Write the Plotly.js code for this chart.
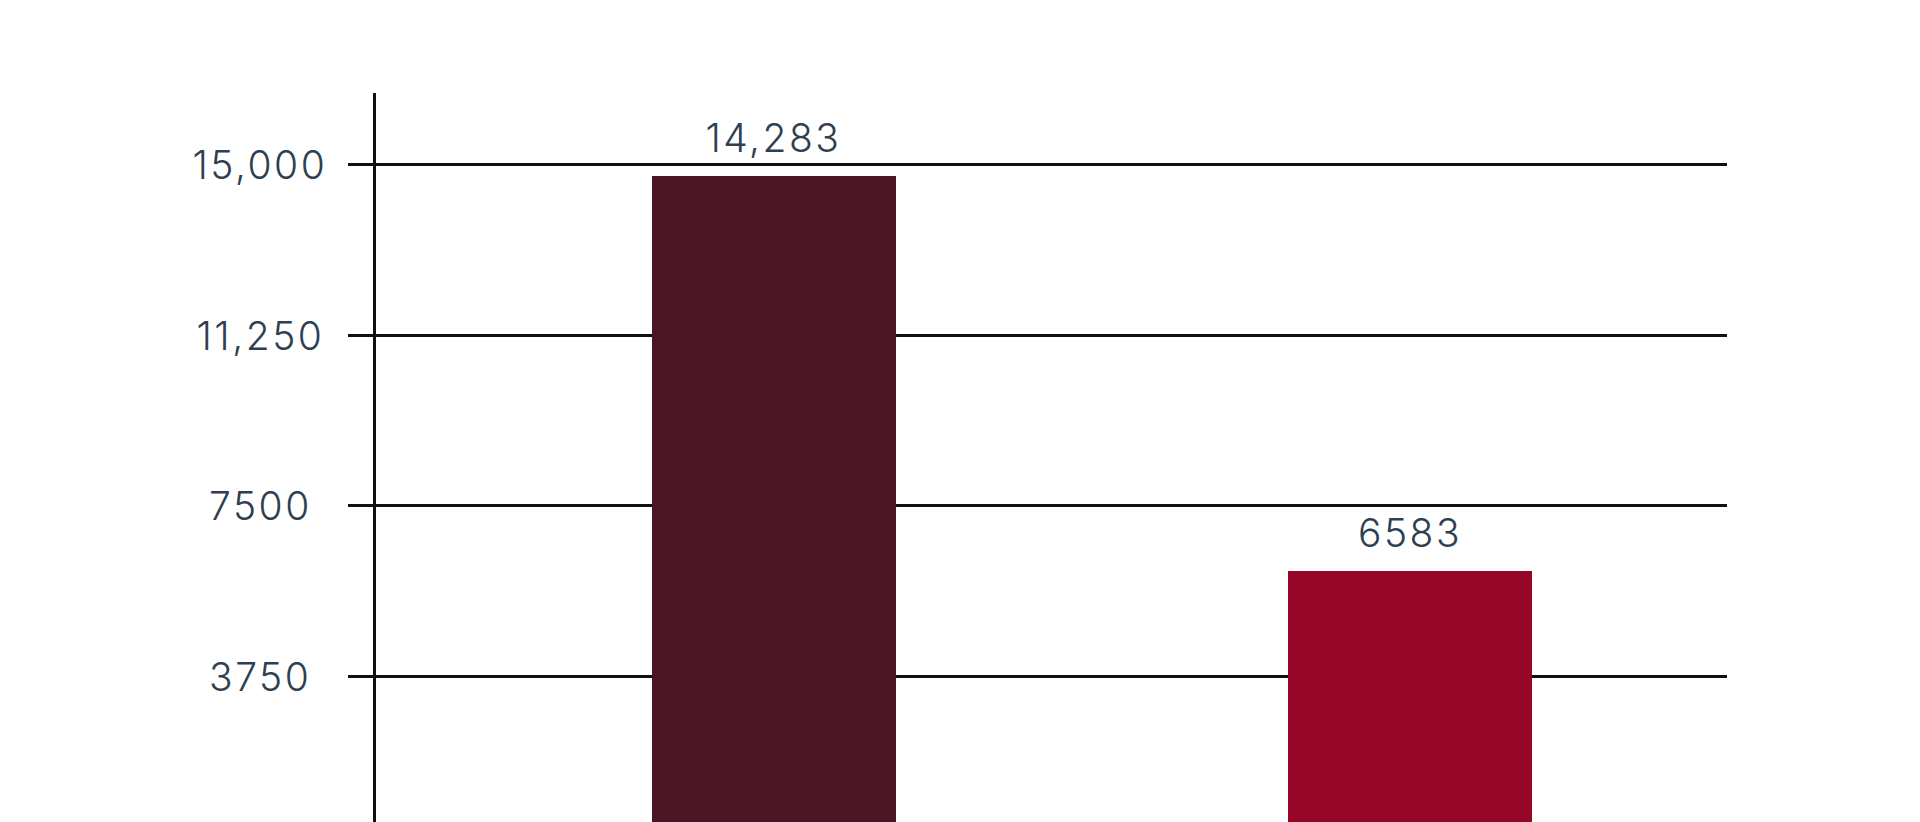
<!DOCTYPE html>
<html>
<head>
<meta charset="utf-8">
<script src="https://cdn.plot.ly/plotly-3.0.1.min.js"></script>
<style>
html,body{margin:0;padding:0;overflow:hidden;background:#fff;}
#chart{width:1920px;height:822px;}
#chart .annotation-text{letter-spacing:2.5px;}
</style>
</head>
<body>
<div id="chart"></div>
<script>
// Data
const categories = ['Category A', 'Category B'];
const values = [14283, 6583];
const valueLabels = ['14,283', '6583'];
const barColors = ['#4a1525', '#960628'];
const tickValues = [3750, 7500, 11250, 15000];
const tickLabels = ['3750', '7500', '11,250', '15,000'];

const textColor = '#2e3f51';
const fontFamily = 'Inter, "Open Sans", sans-serif';
const fontSize = 39;

const trace = {
  type: 'bar',
  x: categories,
  y: values,
  yaxis: 'y2',
  width: 0.383,
  marker: {color: barColors, line: {width: 0}},
  hoverinfo: 'skip',
  showlegend: false
};

// helper trace so the visible axis is drawn
const axisTrace = {
  type: 'scatter',
  x: categories,
  y: values,
  mode: 'none',
  yaxis: 'y',
  hoverinfo: 'skip',
  showlegend: false
};

const annotations = [];
tickValues.forEach((v, i) => {
  annotations.push({
    xref: 'paper', yref: 'y',
    x: -0.0855, y: v,
    xanchor: 'center', yanchor: 'middle',
    text: tickLabels[i],
    showarrow: false,
    font: {family: fontFamily, size: fontSize, color: textColor, weight: 300}
  });
});
categories.forEach((c, i) => {
  annotations.push({
    xref: 'x', yref: 'y2',
    x: c, y: values[i],
    xanchor: 'center', yanchor: 'bottom',
    yshift: 13,
    text: valueLabels[i],
    showarrow: false,
    font: {family: fontFamily, size: fontSize, color: textColor, weight: 300}
  });
});

const layout = {
  width: 1920,
  height: 822,
  autosize: false,
  margin: {l: 376, r: 193, t: 93, b: 0, pad: 0},
  paper_bgcolor: '#ffffff',
  plot_bgcolor: '#ffffff',
  font: {family: fontFamily, size: fontSize, color: textColor},
  xaxis: {
    type: 'category',
    range: [-0.6253, 1.4988],
    showticklabels: false,
    showgrid: false,
    zeroline: false,
    showline: false,
    ticks: '',
    fixedrange: true
  },
  yaxis: {
    range: [543, 16573],
    tickvals: tickValues,
    ticktext: tickLabels,
    showticklabels: false,
    showgrid: true,
    gridcolor: '#111111',
    gridwidth: 3,
    showline: true,
    linecolor: '#111111',
    linewidth: 3,
    ticks: 'outside',
    ticklen: 25,
    tickwidth: 3,
    tickcolor: '#111111',
    zeroline: false,
    fixedrange: true
  },
  yaxis2: {
    overlaying: 'y',
    range: [1690, 15901],
    visible: false,
    showgrid: false,
    zeroline: false,
    fixedrange: true
  },
  annotations: annotations,
  bargap: 0
};

Plotly.newPlot('chart', [axisTrace, trace], layout, {displayModeBar: false, staticPlot: true});
</script>
</body>
</html>
